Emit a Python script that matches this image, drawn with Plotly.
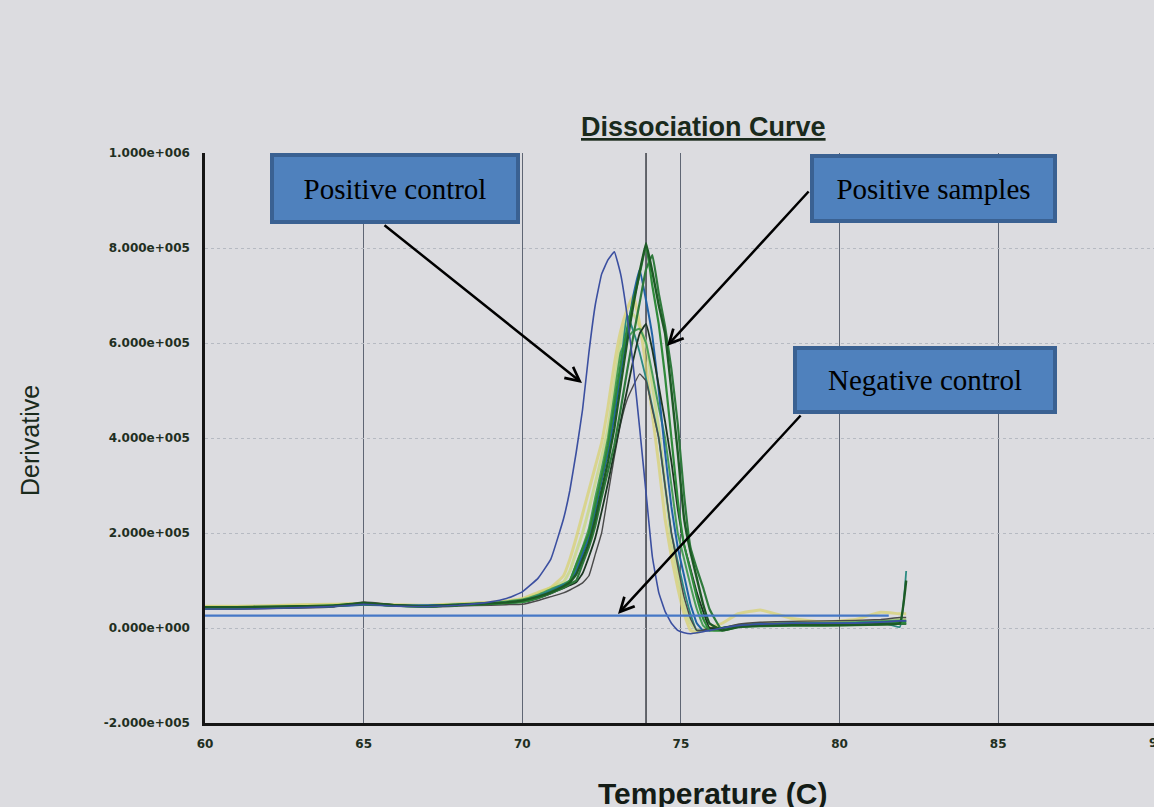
import plotly.graph_objects as go

# ---------------- data (derivative values in units of 1e5) ----------------
TEMPS = [60, 61, 62, 63, 64, 65, 66, 67, 68, 69, 69.5, 70,
         70.5, 70.9, 71.3, 71.5, 71.7, 71.9, 72.1, 72.3, 72.5, 72.7, 72.9, 73.1,
         73.3, 73.5, 73.7, 73.9, 74.1, 74.3, 74.5, 74.7, 74.9, 75.1, 75.3, 75.5,
         75.7, 75.9,
         76.3, 76.8, 77.5, 78.5, 79.5, 80.5, 81.3, 81.9, 82.1]

positive_control = [.40, .40, .41, .43, .45, .50, .46, .45, .48, .55, .62, .76,
                    1.05, 1.45, 2.3, 2.9, 3.7, 4.6, 5.8, 6.8, 7.45, 7.75, 7.92, 7.45,
                    6.6, 5.5, 4.2, 2.85, 1.5, .75, .35, .1, -.05, -.1, -.12, -.1,
                    -.08, -.05,
                    0.0, .05, .08, .10, .10, .10, .12, .15, .15]

sample_1 = [.44, .44, .45, .46, .47, .53, .48, .46, .49, .52, .54, .58,
            .66, .75, .88, .96, 1.13, 1.45, 1.8, 2.3, 2.9, 3.5, 4.2, 5.1,
            6.0, 6.8, 7.5, 8.1, 7.5, 6.8, 6.2, 5.0, 3.7, 2.3, 1.6, 1.05,
            .5, .1,
            -.05, .02, .05, .06, .06, .07, .08, .10, 1.0]

sample_2 = [.42, .42, .43, .45, .46, .51, .47, .45, .48, .51, .53, .55,
            .65, .76, .88, 1.0, 1.33, 1.67, 2.0, 2.6, 3.2, 3.85, 4.7, 5.55,
            6.3, 6.9, 7.45, 8.05, 7.2, 6.4, 5.3, 4.0, 2.7, 1.75, 1.2, .65,
            .2, -.05,
            -.05, .03, .06, .07, .07, .08, .10, .12, .12]

sample_3 = [.46, .46, .47, .49, .50, .52, .49, .48, .51, .54, .57, .62,
            .75, .85, 1.1, 1.45, 1.9, 2.4, 2.9, 3.4, 3.9, 4.65, 5.55, 6.25,
            6.7, 7.0, 6.4, 5.5, 4.5, 3.45, 2.3, 1.5, .85, .3, -.05, -.1,
            -.05, 0.0,
            .1, .3, .38, .2, .12, .18, .33, .3, .3]

sample_4 = [.45, .45, .46, .48, .49, .51, .48, .47, .50, .53, .56, .60,
            .72, .85, .97, 1.2, 1.6, 2.0, 2.5, 3.05, 3.6, 4.2, 5.1, 6.0,
            6.5, 6.6, 6.35, 6.0, 5.1, 4.2, 3.0, 1.85, 1.15, .5, .1, -.05,
            -.05, 0.0,
            0.0, .06, .1, .12, .12, .13, .15, .18, .18]

sample_5 = [.41, .41, .42, .44, .45, .49, .47, .48, .49, .51, .53, .56,
            .66, .77, .9, .97, 1.18, 1.55, 1.9, 2.45, 3.1, 3.7, 4.45, 5.35,
            6.2, 7.0, 7.55, 6.9, 6.15, 5.0, 3.7, 2.55, 1.7, 1.1, .5, .1,
            -.05, -.05,
            0.0, .05, .08, .09, .09, .10, .12, .14, .14]

sample_6 = [.43, .43, .44, .45, .46, .50, .47, .47, .49, .52, .54, .57,
            .68, .8, .92, .98, 1.25, 1.6, 2.0, 2.55, 3.15, 3.7, 4.5, 5.5,
            6.6, 6.25, 5.8, 5.25, 4.65, 4.0, 3.0, 2.0, 1.4, .8, .3, -.05,
            -.05, 0.0,
            0.0, .05, .08, .10, .10, .11, .12, .02, 1.2]

sample_7 = [.40, .40, .41, .42, .44, .55, .49, .44, .46, .48, .49, .50,
            .58, .66, .74, .8, .87, .95, 1.1, 1.55, 2.0, 2.8, 3.6, 4.3,
            4.8, 5.1, 5.35, 5.2, 4.6, 4.0, 3.0, 2.0, 1.3, .65, .2, -.05,
            -.05, 0.0,
            0.0, .08, .12, .14, .15, .16, .18, .22, .22]

sample_8 = [.43, .43, .43, .45, .46, .52, .48, .45, .48, .51, .53, .55,
            .63, .73, .84, .9, .96, 1.15, 1.5, 1.9, 2.45, 3.05, 3.7, 4.35,
            5.0, 5.65, 6.2, 6.4, 5.85, 5.1, 4.35, 3.5, 2.5, 1.75, 1.25, .75,
            .35, 0.0,
            0.0, .03, .05, .06, .06, .07, .08, .09, .09]

sample_9 = [.44, .44, .45, .46, .48, .51, .48, .47, .50, .53, .56, .60,
            .7, .82, .93, 1.0, 1.35, 1.7, 2.1, 2.75, 3.35, 4.0, 4.9, 5.8,
            6.1, 6.25, 6.3, 6.0, 5.35, 4.65, 4.0, 3.0, 2.0, 1.45, .9, .4,
            .05, -.05,
            0.0, .06, .09, .10, .11, .12, .14, .16, .16]

sample_10 = [.42, .42, .43, .44, .46, .50, .47, .45, .48, .51, .53, .55,
             .63, .73, .85, .93, 1.0, 1.35, 1.7, 2.15, 2.75, 3.3, 3.85, 4.6,
             5.4, 6.15, 6.85, 7.55, 7.85, 7.05, 6.35, 5.45, 4.3, 2.8, 1.7, 1.25,
             .85, .4,
             -.05, .02, .04, .05, .05, .06, .07, .09, .09]

negative_control_t = [60, 81.55]
negative_control_v = [0.26, 0.26]

SCALE = 1e5
X_TICKS = [60, 65, 70, 75, 80, 85]
X_TICKTEXT = ["60", "65", "70", "75", "80", "85"]
Y_TICKS = [-2e5, 0, 2e5, 4e5, 6e5, 8e5, 1e6]
Y_TICKTEXT = ["-2.000e+005", "0.000e+000", "2.000e+005", "4.000e+005",
              "6.000e+005", "8.000e+005", "1.000e+006"]
CURSOR_T = 73.9

# ---------------- styling ----------------
BG = "#dcdce0"
series = [
    (sample_4, "#c9d98a", 3.0, 0.85),
    (sample_3, "#d8d26c", 3.0, 0.7),
    (sample_9, "#4a9e58", 2.0, 1.0),
    (sample_6, "#2a8a82", 1.8, 1.0),
    (sample_5, "#2263a6", 2.0, 1.0),
    (sample_7, "#4a4a4a", 1.4, 1.0),
    (sample_8, "#1c3622", 1.8, 1.0),
    (sample_10, "#2f7a3c", 2.2, 1.0),
    (sample_2, "#2f8a3a", 2.2, 1.0),
    (sample_1, "#1d5a25", 2.4, 1.0),
    (positive_control, "#3b4fa0", 1.6, 1.0),
]

fig = go.Figure()
for vals, color, w, op in series:
    fig.add_trace(go.Scatter(
        x=TEMPS, y=[v * SCALE for v in vals], mode="lines",
        line=dict(color=color, width=w, shape="spline", smoothing=0.3),
        opacity=op, hoverinfo="skip", showlegend=False))

fig.add_trace(go.Scatter(
    x=negative_control_t, y=[v * SCALE for v in negative_control_v],
    mode="lines", line=dict(color="#4577c6", width=2.2),
    hoverinfo="skip", showlegend=False))

fig.add_shape(type="line", xref="x", yref="y", x0=CURSOR_T, x1=CURSOR_T,
              y0=Y_TICKS[0], y1=Y_TICKS[-1], line=dict(color="#3a3d44", width=1.5),
              layer="below")

tickfont = dict(family="DejaVu Sans", size=12, color="#1f2f22", weight="bold")

fig.update_layout(
    width=1154, height=807,
    margin=dict(l=205, r=0, t=153, b=84),
    paper_bgcolor=BG, plot_bgcolor=BG,
    showlegend=False,
    xaxis=dict(range=[60, 89.91], tickvals=X_TICKS, ticktext=X_TICKTEXT,
               showgrid=True, gridcolor="#5f6674", gridwidth=1,
               zeroline=False, showline=True, linecolor="#151515", linewidth=2.5,
               ticks="", tickfont=tickfont, ticklabelstandoff=8),
    yaxis=dict(range=[-2e5, 1e6], tickvals=Y_TICKS, ticktext=Y_TICKTEXT,
               showgrid=True, gridcolor="#b6bac2", gridwidth=1, griddash="dot",
               zeroline=False, showline=True, linecolor="#151515", linewidth=2.5,
               ticks="", tickfont=tickfont, ticklabelstandoff=10),
)

def px_x(p):
    return (p - 205) / 949.0

def px_y(p):
    return (723 - p) / 570.0

ann = []
# chart title
ann.append(dict(text="<u><b>Dissociation Curve</b></u>", xref="paper", yref="paper",
                x=px_x(703), y=px_y(127), xanchor="center", yanchor="middle",
                showarrow=False,
                font=dict(family="Liberation Sans, Arial", size=27, color="#1a2a1c")))
# axis titles
ann.append(dict(text="Derivative", xref="paper", yref="paper",
                x=px_x(30), y=px_y(441), xanchor="center", yanchor="middle",
                textangle=-90, showarrow=False,
                font=dict(family="Liberation Sans Narrow, Liberation Sans, Arial",
                          size=25, color="#1a2a1c")))
ann.append(dict(text="Temperature (C)", xref="paper", yref="paper",
                x=px_x(712), y=px_y(793), xanchor="center", yanchor="middle",
                showarrow=False,
                font=dict(family="Liberation Sans, Arial", size=30, color="#141c16",
                          weight="bold")))
# partially visible 90 tick label
ann.append(dict(text="90", xref="paper", yref="paper", x=px_x(1157), y=px_y(743),
                xanchor="center", yanchor="middle", showarrow=False, font=tickfont))

# label boxes
box_font = dict(family="Liberation Serif, Times New Roman", size=29, color="#000000")
for text, lx, ty, w, h in [("Positive control", 270, 153, 242, 63),
                           ("Positive samples", 810, 154, 239, 61),
                           ("Negative control", 793, 346, 256, 60)]:
    ann.append(dict(text=text, xref="paper", yref="paper", x=px_x(lx), y=px_y(ty),
                    xanchor="left", yanchor="top", showarrow=False,
                    width=w, height=h, align="center", valign="middle",
                    bgcolor="#4f81bd", bordercolor="#3a6192", borderwidth=4,
                    borderpad=0, font=box_font))

# arrows (head, tail in pixels)
for hx, hy, tx, ty in [(582, 383, 383, 224), (667, 346, 810, 190), (618, 614, 802, 414)]:
    ann.append(dict(text="", xref="paper", yref="paper", x=px_x(hx), y=px_y(hy),
                    ax=tx - hx, ay=ty - hy, showarrow=True, arrowhead=5,
                    arrowsize=1.1, arrowwidth=2.5, arrowcolor="#000000", standoff=0))

fig.update_layout(annotations=ann)

fig.write_html("out.html", config={"displayModeBar": False},
               post_script="document.body.style.margin='0';document.body.style.padding='0';")
